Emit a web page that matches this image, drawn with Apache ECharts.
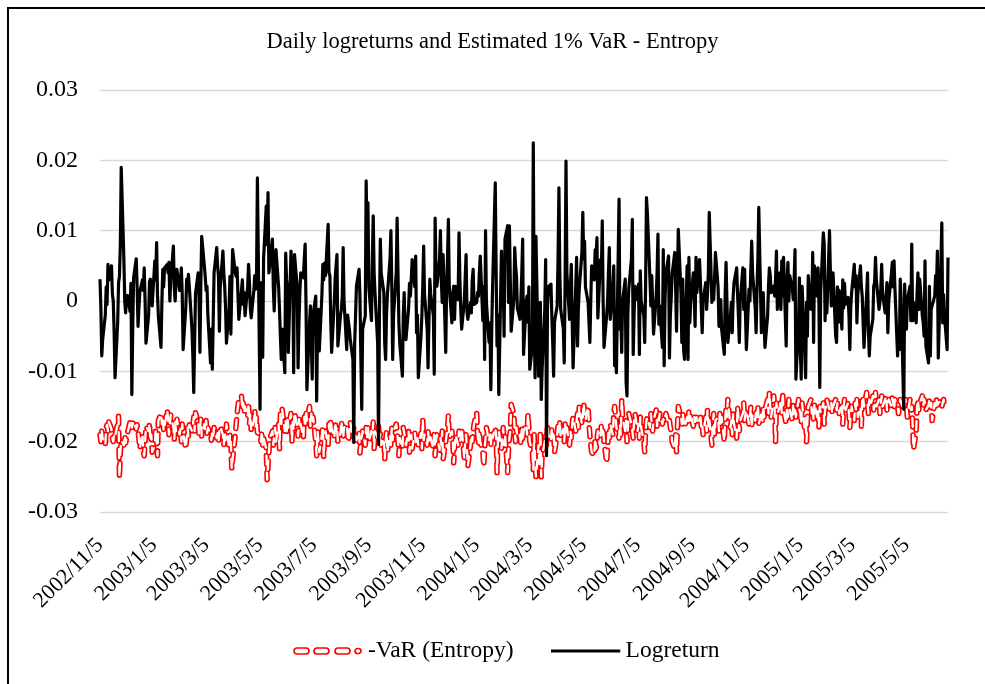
<!DOCTYPE html>
<html>
<head>
<meta charset="utf-8">
<script src="https://cdn.jsdelivr.net/npm/echarts@6/dist/echarts.min.js"></script>
<style>
html,body{margin:0;padding:0;background:#fff;}
#chart{width:985px;height:684px;}
</style>
</head>
<body>
<div id="chart"></div>
<script>
const chartTitle = 'Daily logreturns and Estimated 1% VaR - Entropy';
const seriesNames = ['-VaR (Entropy)', 'Logreturn'];
const firstDate = '2002/11/5';
const tickLabels = ['2002/11/5','2003/1/5','2003/3/5','2003/5/5','2003/7/5','2003/9/5','2003/11/5','2004/1/5','2004/3/5','2004/5/5','2004/7/5','2004/9/5','2004/11/5','2005/1/5','2005/3/5','2005/5/5'];
const yMin = -0.03, yMax = 0.03, yStep = 0.01;

const logreturn = [
0.0031,-0.001,-0.0078,-0.0055,-0.002,0.002,-0.0005,0.0052,0.003,0.005,
0.001,0,-0.0045,-0.0109,-0.003,0.0026,0.0035,0.008,0.019,0.006,
0,-0.0017,0.0005,0.0008,-0.0015,0.0025,-0.0133,-0.004,0.0033,0.006,
0.002,-0.0036,-0.001,0.0012,0.003,0.0015,0.0047,0,-0.006,-0.002,
0.0028,0.0031,0.001,-0.0007,0.0057,0.003,0.0083,0.001,-0.0021,-0.0066,
0,0.0045,0.002,0.0047,0.0052,0.004,0.0055,0,0.003,0.0078,
0.002,0,0.0035,0.0045,0.0015,0.0026,0.0047,0.001,-0.0069,-0.001,
0.0031,0.0021,0.0038,0.002,-0.004,-0.0078,-0.013,-0.006,0.001,0.004,
0.0005,-0.0073,0.002,0.0092,0.005,0.0035,0.0015,0.0021,-0.002,-0.0088,
-0.004,-0.0097,-0.003,0.004,0.0076,0.005,0.0035,-0.0043,0.002,0.0071,
0.004,0.0021,-0.001,-0.006,-0.001,0.0035,-0.0047,0.002,0.0073,0.004,
0.0035,0.0047,0.001,-0.0026,0.0015,0.003,-0.0005,0.0012,
-0.0021,0.002,0.0052,0.0026,-0.001,-0.0024,0.0015,0.0036,0.0017,0.003,
0.0175,-0.0154,0.0026,-0.002,-0.008,0.006,0.0135,0.008,0.0154,0.004,
0.005,0.0088,0.002,-0.0014,0.003,0.0073,0.002,-0.0012,-0.005,-0.0083,
-0.004,-0.0102,0.0068,0.003,0.0017,-0.0073,0.0071,0.004,0.0052,-0.0102,
0.0066,0.002,-0.0095,-0.003,0.0012,0.004,0.0033,0.006,0.0081,-0.0007,
-0.0126,-0.003,-0.0007,-0.006,-0.0111,-0.002,0.0007,-0.0142,-0.0033,-0.0012,
-0.0071,0.001,0.0052,0.003,0.0054,0.0036,0.0109,0.004,0.0036,-0.003,
-0.0073,0,0.0033,0.005,0.0066,-0.0064,-0.002,-0.0012,0.0007,0.0076,
0,-0.0069,-0.002,-0.0021,-0.004,-0.0054,-0.0083,-0.0201,-0.006,-0.0021,
0.0021,0.0045,0.0005,-0.008,-0.0154,-0.004,-0.0021,0.0171,0.008,0.014,
0.002,-0.0028,0.006,0.0121,0.004,0.0012,-0.006,-0.0204,-0.002,0.0088,
0.004,0.0012,-0.006,-0.0083,-0.002,0.0009,0.006,0.01,0.002,-0.0083,
-0.002,0.004,
0.0118,0.004,-0.0031,-0.006,-0.0107,-0.002,0.0012,-0.004,-0.0055,-0.001,
0.0025,0.0007,0.003,0.0059,0.002,0.0064,-0.0045,-0.002,-0.0109,-0.005,
-0.0021,0.002,0.0078,0.001,-0.004,-0.0095,-0.003,0.0031,0.001,-0.0021,
-0.0104,0.0118,0.004,0.0021,0.0059,0.01,0.003,-0.0002,0.0066,-0.0073,
0.0021,0.006,0.0116,0.002,-0.0031,0.001,0.0021,-0.0026,0.0021,0.0002,
0.0097,0.003,-0.0012,-0.004,0,-0.0002,0.0066,-0.0015,-0.0026,-0.0002,
-0.0017,0.0031,0.0045,-0.0005,-0.0002,0.0012,0.0007,0.004,0.0064,-0.0028,
0.0021,-0.0083,0.01,-0.0002,-0.0059,-0.0031,-0.0126,-0.004,0.0021,0.0168,
0.004,-0.0064,-0.002,-0.0133,0.0071,0.0002,0.0031,-0.005,0.0088,0.0107,
-0.0002,0.0107,0.0031,-0.0043,0.0002,0.0076,0.005,0.0035,-0.001,-0.0026,
0.0002,0.004,0.0088,-0.0076,0,0.0007,-0.003,0.002,-0.0097,-0.0064,
0.0225,-0.0021,-0.0109,0.0092,-0.0107,-0.003,-0.0002,-0.014,-0.0097,-0.0012,
0.0059,-0.022,
-0.0012,0.002,0.0024,-0.0021,-0.006,-0.0107,-0.003,-0.0007,0.006,0.0161,
0.004,-0.0012,-0.004,-0.0088,0.003,0.0199,0.004,-0.0026,0.002,0.0052,
-0.003,-0.0095,0.002,0.0062,-0.0064,-0.001,0.0017,0.007,0.0126,0.006,
0.0085,0.002,-0.0002,-0.003,-0.0059,0,0.005,0.003,0.0073,0.006,
0.009,-0.0024,0.0059,0.004,0.0114,0,-0.0066,-0.002,-0.0002,0.004,
0.0076,-0.0026,0.002,0.005,-0.0092,-0.007,-0.0102,0.0145,-0.004,-0.002,
-0.0073,0,0.0031,-0.0116,-0.0135,-0.0017,0.0017,0.006,0.0116,-0.0076,
-0.002,0.0021,0.0002,0.0024,-0.0076,0.0043,0,-0.0021,-0.0059,0.002,
0.0147,0.0126,0.003,-0.0007,0.0036,-0.0002,-0.0047,0.0007,0.004,0.0095,
-0.0033,-0.0007,-0.0066,0.0073,-0.0092,0.0002,0.004,0.0064,-0.0081,-0.002,
0.0005,0.0038,0.0069,0.0017,-0.0043,0.003,0.0102,0.0012,-0.0059,0.0031,
-0.0069,-0.0083,0.005,-0.0083,0.0062,-0.0031,-0.0002,0.004,0.0007,-0.0036,
0.0062,0.0012,
0.0059,0.0028,-0.001,-0.0045,0,0.0026,-0.0012,0.001,0.004,0.0126,
-0.0002,0.002,0.0002,0.003,0.0069,0.002,-0.0036,-0.001,0.0002,-0.004,
-0.0076,0.001,0.0055,0,-0.0059,-0.002,-0.0002,-0.0045,0.0005,0.0026,
0.0047,0.001,-0.0021,-0.0059,0,0.0047,-0.0012,0.0045,-0.002,-0.0069,
0.0017,0,0.0043,0.0085,0.004,-0.001,-0.0045,0.0017,0.006,0.0133,
-0.0045,-0.0021,0.0012,-0.003,-0.0066,-0.0021,0.0021,0.0047,0.0036,0.0012,
0.0021,0.0007,0.0031,0.0071,-0.0012,0.004,-0.0012,0.0057,0.0007,0.0062,
-0.0064,0.0028,0.0055,0,0.0036,0.0017,0.0002,0.003,0.0073,-0.0111,
-0.0031,0.0033,-0.0069,-0.0111,0.0021,-0.0073,-0.0109,-0.0002,-0.005,0.0036,
-0.0012,-0.0007,0.0069,-0.0059,0.005,0.0007,0.0047,-0.0002,-0.0123,0.0012,
0.0097,0.0081,-0.0028,0.0026,-0.0017,0.01,0.004,-0.0007,0.0021,0.004,
-0.005,-0.0059,0.002,-0.003,0.0015,-0.004,0.003,-0.001,0.0025,-0.0005,
0.0005,-0.002,
-0.0069,-0.001,0.0012,0.0052,0.002,0.0036,-0.0031,0.001,0.005,0.0021,
0.0007,-0.003,-0.0066,0.001,0.004,-0.004,-0.0078,-0.005,-0.0026,0.0021,
0.0026,0.0062,0.003,-0.0012,-0.0002,0.0017,0.0052,0.001,-0.0017,0.0007,
0.0026,-0.0045,0,0.0038,0.0055,0.002,0.0057,0.0017,-0.0078,-0.004,
-0.0069,0.0031,0.0002,-0.0154,0.0024,-0.0017,-0.004,0,0.0021,-0.0028,
0.0081,-0.0028,-0.0002,-0.0031,0.001,0.004,-0.0012,0.0031,-0.0021,-0.0031,
-0.005,0.0057,-0.0064,-0.0088,0.0021,-0.0078,-0.0012,-0.0007,0.0007,0.0036,
0.002,0.0071,-0.0081,0.0055,0.0111,-0.0031,0.0009,-0.002,-0.0069,0.0062
];

const varEntropy = [
-0.019,-0.02,-0.0185,-0.0195,-0.0205,-0.018,-0.0176,-0.0185,-0.0172,-0.0182,
-0.0195,-0.02,-0.0188,-0.0192,-0.0175,-0.0164,-0.0251,-0.0215,
-0.0198,-0.0205,-0.019,-0.0202,-0.0195,-0.0188,
-0.0172,-0.0168,-0.018,-0.0175,-0.017,-0.0182,-0.0176,-0.0185,
-0.0195,-0.021,-0.0188,-0.0215,-0.022,-0.02,
-0.0178,-0.0185,-0.0173,-0.02,-0.019,-0.0215,-0.0205,-0.0182,-0.0195,-0.022,
-0.017,-0.016,-0.0175,-0.0165,-0.0185,-0.0178,-0.0155,-0.0168,-0.019,-0.0175,-0.0162,-0.018,-0.0197,-0.0172,-0.0185,-0.0168,
-0.019,-0.0182,-0.02,-0.0175,-0.0188,-0.021,-0.0195,-0.018,-0.0192,-0.0176,-0.0185,
-0.0178,-0.0165,-0.0185,-0.0159,-0.0172,-0.019,-0.0182,-0.0168,-0.0192,-0.0175,-0.0185,-0.017,-0.0188,-0.018,
-0.019,-0.0198,-0.0185,-0.0192,-0.018,-0.0195,-0.0188,-0.02,-0.0185,
-0.0178,-0.019,-0.0205,-0.0185,-0.0198,-0.0175,-0.021,-0.019,-0.02,-0.0239,-0.0225,
-0.019,-0.0175,-0.016,-0.015,-0.014,-0.0135,-0.0155,-0.0145,-0.016,
-0.015,-0.0165,-0.0145,-0.0175,-0.016,-0.0185,-0.017,-0.0155,-0.018,-0.0165,-0.0187,
-0.019,-0.02,-0.0185,-0.0205,-0.0195,-0.021,-0.0254,-0.0235,-0.0215,
-0.0195,-0.0185,-0.0205,-0.019,-0.018,-0.02,-0.0175,-0.021,
-0.016,-0.0175,-0.0154,-0.0185,-0.017,-0.019,-0.0165,-0.018,-0.016,-0.02,-0.0172,-0.0185,-0.0158,-0.0178,-0.0192,-0.0168,-0.0182,-0.0175,-0.0195,-0.0165,-0.018,
-0.0155,-0.017,-0.015,-0.0178,-0.016,-0.0175,-0.0165,-0.02,
-0.022,-0.0185,-0.02,-0.0215,-0.019,-0.0178,-0.0222,-0.0195,-0.0185,-0.0205,
-0.0175,-0.019,-0.0168,-0.0182,-0.0195,-0.0172,-0.0185,-0.0178,-0.02,-0.0188,-0.017,-0.0185,-0.0195,-0.018,-0.0175,-0.019,-0.02,-0.0185,-0.0172,-0.0195,-0.018,-0.0188,
-0.019,-0.0198,-0.0185,-0.0216,-0.02,-0.0192,-0.0185,-0.0205,
-0.018,-0.0195,-0.0175,-0.02,-0.0185,-0.019,-0.0172,-0.021,-0.0185,-0.0195,-0.0178,-0.02,-0.0188,-0.0205,
-0.0195,-0.0225,-0.02,-0.0185,-0.0215,-0.019,-0.0205,-0.018,-0.0198,-0.0185,-0.0175,
-0.0185,-0.02,-0.022,-0.0195,-0.021,-0.018,
-0.0178,-0.0195,-0.0205,-0.0185,-0.0215,-0.02,-0.019,-0.021,-0.0188,-0.0198,-0.0205,
-0.0195,-0.0205,-0.0188,-0.021,-0.0168,-0.0198,-0.019,-0.0205,-0.0185,-0.02,-0.0192,
-0.0195,-0.021,-0.0185,-0.022,-0.02,-0.019,-0.0212,-0.0195,-0.0205,-0.0185,-0.0225,-0.02,-0.019,-0.018,-0.0163,-0.0195,
-0.0185,-0.02,-0.023,-0.021,
-0.019,-0.0205,-0.0185,-0.02,-0.0195,-0.018,-0.0225,-0.02,-0.019,-0.021,-0.0235,-0.0205,-0.019,-0.02,-0.0185,-0.0175,-0.0159,
-0.019,-0.0205,-0.0185,-0.02,-0.0215,-0.0235,-0.021,-0.0195,-0.018,-0.02,-0.019,-0.0205,-0.0185,-0.0195,-0.018,
-0.019,-0.0244,-0.02,-0.0185,-0.021,-0.0195,-0.018,-0.0205,-0.019,-0.0244,-0.021,-0.0195,-0.0185,
-0.0147,-0.016,
-0.0185,-0.02,-0.018,-0.0195,-0.019,-0.0205,-0.0178,-0.02,-0.0185,-0.0175,-0.019,
-0.016,-0.018,
-0.02,-0.0215,-0.024,-0.019,-0.0225,-0.025,-0.0205,-0.0235,-0.0185,-0.025,-0.022,-0.02,-0.019,-0.0205,
-0.0175,-0.019,-0.02,-0.018,-0.0195,-0.0185,-0.0215,-0.019,
-0.0178,-0.0188,-0.017,-0.0195,-0.0182,-0.02,-0.0175,-0.019,-0.018,-0.0205,-0.0185,
-0.0195,-0.0175,-0.0165,-0.0185,-0.017,-0.016,-0.018,-0.015,-0.0175,
-0.0165,-0.0145,-0.016,-0.017,-0.015,-0.0175,-0.019,
-0.0205,-0.0215,-0.022,-0.0195,-0.021,-0.02,-0.0185,-0.0195,
-0.0175,-0.019,-0.018,-0.02,-0.023,-0.021,-0.0185,-0.0195,-0.0175,-0.019,-0.016,
-0.015,-0.0165,
-0.018,-0.0195,-0.0175,-0.019,-0.014,-0.0165,-0.0185,-0.017,-0.02,-0.018,-0.016,-0.0175,-0.0185,-0.0195,
-0.017,-0.016,-0.0185,-0.0175,-0.0195,-0.0165,-0.018,-0.02,-0.0215,-0.0185,-0.017,
-0.0165,-0.018,-0.016,-0.0175,-0.0185,-0.017,-0.0155,-0.0178,
-0.0165,-0.017,-0.016,-0.0175,-0.0168,-0.0172,-0.0165,-0.016,-0.0175,-0.017,-0.018,
-0.0185,-0.02,-0.021,-0.019,-0.0215,-0.018,-0.015,
-0.0165,-0.0175,-0.016,-0.017,-0.018,-0.0165,-0.0175,-0.0155,-0.017,-0.016,-0.0178,-0.0165,-0.0172,-0.016,-0.017,
-0.017,-0.016,-0.018,-0.0175,-0.019,-0.0165,-0.0185,-0.0155,-0.0178,-0.0168,-0.0205,
-0.0175,-0.016,-0.019,-0.017,-0.0165,-0.0185,-0.0155,-0.0178,-0.0165,-0.02,-0.017,
-0.015,-0.0165,-0.014,-0.018,-0.017,-0.019,-0.016,-0.0175,-0.0195,-0.015,-0.0165,-0.0185,-0.017,-0.016,
-0.0145,-0.017,-0.016,-0.0155,-0.0175,-0.0165,-0.015,-0.018,-0.016,-0.017,-0.0155,-0.0165,-0.0148,-0.0175,-0.016,-0.017,-0.015,-0.0165,-0.0155,
-0.014,-0.016,-0.013,-0.015,-0.0165,-0.0135,-0.0155,-0.02,-0.0145,-0.016,-0.015,
-0.014,-0.016,-0.013,-0.0155,-0.0175,-0.015,-0.0165,-0.014,-0.0155,-0.017,-0.0145,-0.016,-0.015,-0.0165,-0.014,-0.0155,
-0.016,-0.0175,-0.0145,-0.0185,-0.0165,-0.02,-0.017,-0.015,
-0.014,-0.016,-0.015,-0.017,-0.0145,-0.0165,-0.0155,-0.018,-0.015,-0.016,-0.0145,-0.0175,-0.0155,-0.015,
-0.014,-0.0155,-0.015,-0.0145,-0.016,-0.015,-0.014,-0.0155,-0.0145,-0.015,-0.016,-0.0145,-0.0175,-0.015,-0.014,-0.0155,-0.0145,-0.016,
-0.018,-0.016,-0.015,-0.017,-0.0145,-0.0155,-0.014,-0.0165,-0.015,-0.0178,-0.014,
-0.0135,-0.015,-0.013,-0.0145,-0.016,-0.014,-0.015,-0.0135,-0.0155,-0.0145,-0.013,-0.015,-0.014,-0.016,-0.0145,
-0.0135,-0.015,-0.014,-0.0135,-0.0155,-0.0145,-0.014,-0.015,-0.0138,-0.0145,-0.0155,-0.014,-0.015,-0.016,
-0.015,-0.014,-0.0145,-0.0155,-0.0145,-0.014,-0.015,-0.0165,-0.014,-0.0155,-0.015,
-0.0175,-0.0211,-0.0185,
-0.015,-0.014,-0.0155,-0.0145,-0.0135,-0.015,-0.014,-0.0145,-0.0155,-0.0148,-0.014,-0.015,-0.0145,-0.017,
-0.0145,-0.015,-0.014,-0.0148,-0.0145,-0.0142,-0.015,-0.0145,-0.014,-0.0148,-0.0152,-0.015
];

const FONT = '"Liberation Serif", "Times New Roman", serif';

function parseDate(s) {
  const p = s.split('/').map(Number);
  return new Date(p[0], p[1] - 1, p[2]);
}
function fmtDate(t) {
  const d = new Date(t);
  return d.getFullYear() + '/' + (d.getMonth() + 1) + '/' + d.getDate();
}
// trading-day (weekday) calendar starting at the first date
const nPoints = Math.max(logreturn.length, varEntropy.length);
const tradingDays = [];
let cur = parseDate(firstDate);
while (tradingDays.length < nPoints) {
  const wd = cur.getDay();
  if (wd !== 0 && wd !== 6) tradingDays.push(cur.getTime());
  cur = new Date(cur.getFullYear(), cur.getMonth(), cur.getDate() + 1);
}
const tickValues = tickLabels.map(s => parseDate(s).getTime());

const lrData = logreturn.map((v, i) => [tradingDays[i], v]);
const varData = varEntropy.map((v, i) => [tradingDays[i], v]);

function svgIcon(inner) {
  const svg = "<svg xmlns='http://www.w3.org/2000/svg' width='70' height='8' viewBox='0 0 70 8'>" + inner + "</svg>";
  return 'image://data:image/svg+xml;charset=utf-8,' + encodeURIComponent(svg);
}
const dashIcon = svgIcon(
  "<g fill='#ffffff' stroke='#ff0000' stroke-width='1.7'>" +
  "<rect x='1' y='1' width='15' height='6' rx='3'/>" +
  "<rect x='21' y='1' width='15' height='6' rx='3'/>" +
  "<rect x='42' y='1' width='15' height='6' rx='3'/>" +
  "<rect x='62' y='1.5' width='6' height='5' rx='2.5'/></g>");
const solidIcon = svgIcon("<rect x='0' y='2.5' width='70' height='3' fill='#000000'/>");

const chart = echarts.init(document.getElementById('chart'), null, { renderer: 'canvas' });
chart.setOption({
  backgroundColor: '#ffffff',
  animation: false,
  title: {
    text: chartTitle,
    left: 'center',
    top: 31,
    padding: [0, 0, 0, 18],
    textStyle: { fontFamily: FONT, fontSize: 22.5, fontWeight: 'normal', color: '#000' }
  },
  legend: {
    left: 293,
    top: 639,
    padding: 0,
    itemWidth: 70,
    itemHeight: 8,
    itemGap: 37,
    data: [
      { name: seriesNames[0], icon: dashIcon },
      { name: seriesNames[1], icon: solidIcon }
    ],
    textStyle: { fontFamily: FONT, fontSize: 23.5, color: '#000' }
  },
  grid: { left: 100, right: 37, top: 90, bottom: 172 },
  xAxis: {
    type: 'value',
    min: tradingDays[0],
    max: tradingDays[nPoints - 1],
    axisLine: { show: false },
    axisTick: { show: false },
    splitLine: { show: false },
    axisLabel: {
      customValues: tickValues,
      formatter: v => fmtDate(v),
      rotate: 45,
      margin: 30,
      fontFamily: FONT,
      fontSize: 22,
      color: '#000',
      hideOverlap: false
    }
  },
  yAxis: {
    type: 'value',
    min: yMin,
    max: yMax,
    interval: yStep,
    axisLine: { show: false },
    axisTick: { show: false },
    axisLabel: {
      fontFamily: FONT,
      fontSize: 24,
      color: '#000',
      margin: 22,
      formatter: v => String(Math.round(v * 100) / 100)
    },
    splitLine: { lineStyle: { color: '#d9d9d9', width: 1.3 } }
  },
  series: [
    {
      name: seriesNames[0], type: 'line', data: varData, symbol: 'none', z: 2,
      lineStyle: { color: '#ff0000', width: 5.5, type: [9, 8], cap: 'round', join: 'round' },
      itemStyle: { color: '#ff0000' }
    },
    {
      name: 'varCore', type: 'line', data: varData, symbol: 'none', z: 2, silent: true,
      lineStyle: { color: '#ffffff', width: 2.3, type: [9, 8], cap: 'round', join: 'round' },
      itemStyle: { color: '#ffffff' }
    },
    {
      name: seriesNames[1], type: 'line', data: lrData, symbol: 'none', z: 3,
      lineStyle: { color: '#000000', width: 3.2, join: 'round' },
      itemStyle: { color: '#000000' }
    }
  ],
  graphic: [
    {
      type: 'rect', silent: true, z: 100,
      shape: { x: 8, y: 8, width: 1000, height: 700 },
      style: { fill: 'none', stroke: '#000', lineWidth: 2 }
    }
  ]
});
</script>
</body>
</html>
